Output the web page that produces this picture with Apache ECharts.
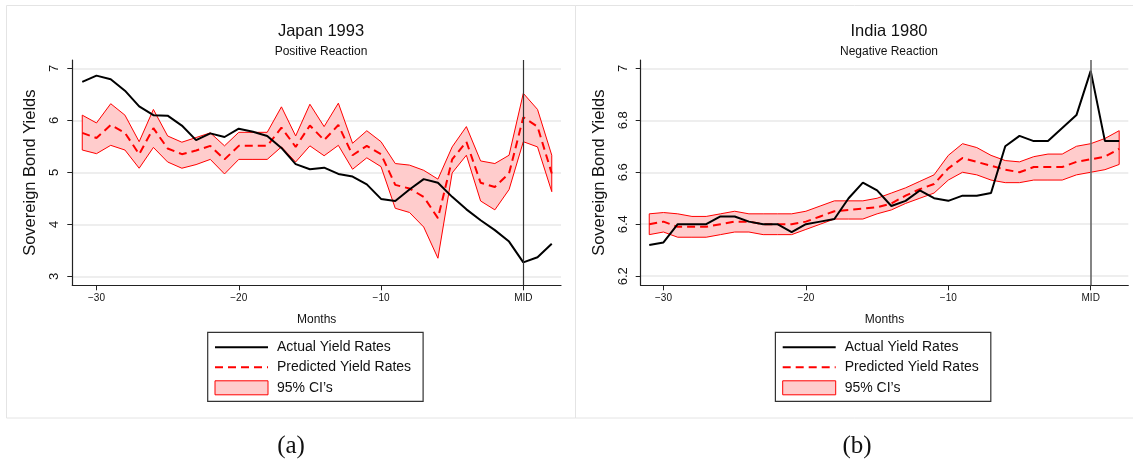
<!DOCTYPE html>
<html>
<head>
<meta charset="utf-8">
<script src="https://cdn.jsdelivr.net/npm/echarts@6/dist/echarts.min.js"></script>
<style>
html,body{margin:0;padding:0;background:#fff;}
#chart{width:1133px;height:459px;}
</style>
</head>
<body>
<div id="chart"></div>
<script>
// ---------- data ----------
const months = [-31,-30,-29,-28,-27,-26,-25,-24,-23,-22,-21,-20,-19,-18,-17,-16,-15,-14,-13,-12,-11,-10,-9,-8,-7,-6,-5,-4,-3,-2,-1,0,1,2];

const japanActual = [6.74,6.86,6.79,6.57,6.27,6.10,6.09,5.90,5.62,5.75,5.68,5.84,5.78,5.70,5.47,5.16,5.06,5.09,4.97,4.92,4.77,4.49,4.45,4.67,4.87,4.80,4.53,4.29,4.08,3.89,3.67,3.27,3.37,3.63];
const japanPredicted = [5.76,5.66,5.91,5.76,5.35,5.85,5.46,5.35,5.42,5.51,5.25,5.51,5.51,5.51,5.86,5.49,5.90,5.62,5.91,5.33,5.51,5.35,4.76,4.69,4.53,4.12,5.25,5.59,4.80,4.72,4.98,6.06,5.88,4.98];
const japanUpper = [6.10,5.95,6.32,6.10,5.59,6.21,5.70,5.58,5.67,5.76,5.51,5.77,5.77,5.77,6.26,5.70,6.31,5.88,6.33,5.56,5.80,5.59,5.17,5.14,5.04,4.87,5.49,5.88,5.22,5.17,5.33,6.52,6.21,5.33];
const japanLower = [5.43,5.36,5.52,5.43,5.08,5.48,5.20,5.08,5.15,5.25,4.97,5.25,5.25,5.25,5.49,5.20,5.51,5.32,5.52,5.06,5.28,5.11,4.31,4.23,3.95,3.35,4.99,5.33,4.45,4.28,4.67,5.59,5.49,4.63];

const indiaActual = [6.32,6.33,6.40,6.40,6.40,6.43,6.43,6.41,6.40,6.40,6.37,6.40,6.41,6.42,6.50,6.56,6.53,6.47,6.49,6.53,6.50,6.49,6.51,6.51,6.52,6.70,6.74,6.72,6.72,6.77,6.82,6.99,6.72,6.72];
const indiaPredicted = [6.40,6.41,6.39,6.39,6.39,6.40,6.41,6.41,6.40,6.40,6.40,6.41,6.43,6.45,6.455,6.46,6.465,6.48,6.51,6.535,6.555,6.615,6.655,6.64,6.625,6.61,6.60,6.62,6.62,6.62,6.64,6.65,6.66,6.69];
const indiaUpper = [6.44,6.445,6.44,6.43,6.43,6.44,6.45,6.44,6.44,6.44,6.44,6.45,6.47,6.49,6.49,6.49,6.50,6.52,6.54,6.565,6.59,6.665,6.71,6.695,6.665,6.645,6.64,6.66,6.67,6.67,6.70,6.71,6.73,6.76];
const indiaLower = [6.36,6.37,6.35,6.35,6.35,6.36,6.37,6.37,6.36,6.36,6.36,6.38,6.40,6.42,6.42,6.42,6.44,6.455,6.48,6.50,6.52,6.57,6.60,6.59,6.57,6.56,6.56,6.57,6.57,6.57,6.59,6.60,6.61,6.63];

const xTickValues = [-30,-20,-10,0];
const xTickLabels = ['\u221230','\u221220','\u221210','MID'];
const japanYTicks = [3,4,5,6,7];
const indiaYTicks = [6.2,6.4,6.6,6.8,7];
const indiaYLabels = ['6.2','6.4','6.6','6.8','7'];

const titles = ['Japan 1993','India 1980'];
const subtitles = ['Positive Reaction','Negative Reaction'];
const captions = ['(a)','(b)'];
const legendNames = ['Actual Yield Rates','Predicted Yield Rates','95% CI\u2019s'];
const xName = 'Months';
const yName = 'Sovereign Bond Yields';
const midMonth = 0;

// ---------- chart ----------
const FONT = '"Liberation Sans", Arial, Helvetica, sans-serif';
const chart = echarts.init(document.getElementById('chart'), null, {renderer:'canvas'});

function xAxisCfg(gridIndex, min, max){
  return {
    type:'value', gridIndex, min, max,
    axisLine:{show:true, onZero:false, lineStyle:{color:'#222', width:1.2}},
    axisTick:{show:true, length:5, inside:false, customValues:xTickValues, lineStyle:{color:'#222', width:1}},
    axisLabel:{customValues:xTickValues, margin:8, fontSize:10, fontFamily:FONT, color:'#111',
      formatter:(v)=>{const i=xTickValues.indexOf(v); return i>=0?xTickLabels[i]:'';}},
    splitLine:{show:false},
    name:xName, nameLocation:'middle', nameGap:28,
    nameTextStyle:{fontSize:12, fontFamily:FONT, color:'#111'}
  };
}
function yAxisCfg(gridIndex, min, max, ticks, labels){
  return {
    type:'value', gridIndex, min, max,
    axisLine:{show:true, onZero:false, lineStyle:{color:'#222', width:1.2}},
    axisTick:{show:true, length:5, customValues:ticks, lineStyle:{color:'#222', width:1}},
    axisLabel:{customValues:ticks, rotate:90, margin:11, fontSize:13, fontFamily:FONT, color:'#111',
      formatter:(v)=>{ if(!labels) return String(v); let i=ticks.findIndex(t=>Math.abs(t-v)<1e-9); return i>=0?labels[i]:'';}},
    splitLine:{show:true, lineStyle:{color:'#e8e8e8', width:1.5}},
    name:yName, nameLocation:'middle', nameGap:33, nameRotate:90,
    nameTextStyle:{fontSize:16.5, fontFamily:FONT, color:'#111'}
  };
}
function bandRender(xs, lo, hi){
  return function(params, api){
    if(params.dataIndex !== 0) return null;
    const pts=[];
    for(let i=0;i<xs.length;i++) pts.push(api.coord([xs[i], hi[i]]));
    for(let i=xs.length-1;i>=0;i--) pts.push(api.coord([xs[i], lo[i]]));
    return {type:'polygon', shape:{points:pts}, style:{fill:'#ffcccc', stroke:'#ff0000', lineWidth:1}};
  };
}
function panelSeries(idx, actual, pred, lo, hi, midColor, midWidth){
  return [
    {type:'custom', name:legendNames[2], xAxisIndex:idx, yAxisIndex:idx, z:1,
     renderItem:bandRender(months, lo, hi), itemStyle:{color:'#ffcccc'},
     data:months.map((m,i)=>[m, lo[i], hi[i]]), encode:{x:0, y:[1,2]}, silent:true},
    {type:'line', name:legendNames[1], xAxisIndex:idx, yAxisIndex:idx, z:3,
     data:months.map((m,i)=>[m, pred[i]]), symbol:'none', itemStyle:{color:'#ff0000'},
     lineStyle:{color:'#ff0000', width:2, type:[8,5]}, silent:true},
    {type:'line', name:legendNames[0], xAxisIndex:idx, yAxisIndex:idx, z:4,
     data:months.map((m,i)=>[m, actual[i]]), symbol:'none', itemStyle:{color:'#000'},
     lineStyle:{color:'#000', width:2}, silent:true,
     markLine:{silent:true, symbol:'none', label:{show:false},
       lineStyle:{color:midColor, width:midWidth, type:'solid'}, data:[{xAxis:midMonth}]}}
  ];
}
function legendCfg(left){
  return {
    left, top:332.3, orient:'vertical', itemWidth:53, itemHeight:14, itemGap:6,
    padding:[8,12,6,6.3], borderColor:'#333', borderWidth:1.2, selectedMode:false,
    textStyle:{fontSize:14, fontFamily:FONT, color:'#111', padding:[0,0,0,4]},
    data:[
      {name:legendNames[0], itemStyle:{opacity:0}},
      {name:legendNames[1], itemStyle:{opacity:0}},
      {name:legendNames[2], icon:'rect', itemStyle:{color:'#ffcccc', borderColor:'#ff0000', borderWidth:1}}
    ]
  };
}

const option = {
  animation:false,
  backgroundColor:'#fff',
  title:[
    {text:titles[0], subtext:subtitles[0], left:316, top:18, textAlign:'center', itemGap:6,
     textStyle:{fontSize:16.5, fontWeight:'normal', fontFamily:FONT, color:'#111'},
     subtextStyle:{fontSize:12, fontFamily:FONT, color:'#111'}},
    {text:titles[1], subtext:subtitles[1], left:884, top:18, textAlign:'center', itemGap:6,
     textStyle:{fontSize:16.5, fontWeight:'normal', fontFamily:FONT, color:'#111'},
     subtextStyle:{fontSize:12, fontFamily:FONT, color:'#111'}}
  ],
  grid:[
    {left:72.3, top:60, width:488.7, height:225.3, containLabel:false},
    {left:640.7, top:60, width:487.6, height:225.3, containLabel:false}
  ],
  xAxis:[xAxisCfg(0,-31.7,2.65), xAxisCfg(1,-31.6,2.64)],
  yAxis:[yAxisCfg(0,2.83,7.16,japanYTicks,null), yAxisCfg(1,6.165,7.032,indiaYTicks,indiaYLabels)],
  legend:[legendCfg(207.7), legendCfg(775.4)],
  graphic:[
    {type:'rect', silent:true, z:-10, shape:{x:6.5,y:5.5,width:569,height:412.5}, style:{fill:'none', stroke:'#e4e4e4', lineWidth:1}},
    {type:'rect', silent:true, z:-10, shape:{x:575.5,y:5.5,width:570,height:412.5}, style:{fill:'none', stroke:'#e4e4e4', lineWidth:1}},
    {type:'text', style:{text:captions[0], x:291, y:446, textAlign:'center', textVerticalAlign:'middle', font:'25px "Liberation Serif", "DejaVu Serif", serif', fill:'#111'}},
    {type:'text', style:{text:captions[1], x:857, y:446, textAlign:'center', textVerticalAlign:'middle', font:'25px "Liberation Serif", "DejaVu Serif", serif', fill:'#111'}}
  ],
  series:[
    ...panelSeries(0, japanActual, japanPredicted, japanLower, japanUpper, '#333', 1.2),
    ...panelSeries(1, indiaActual, indiaPredicted, indiaLower, indiaUpper, '#666', 1.6)
  ]
};
chart.setOption(option);
</script>
</body>
</html>
